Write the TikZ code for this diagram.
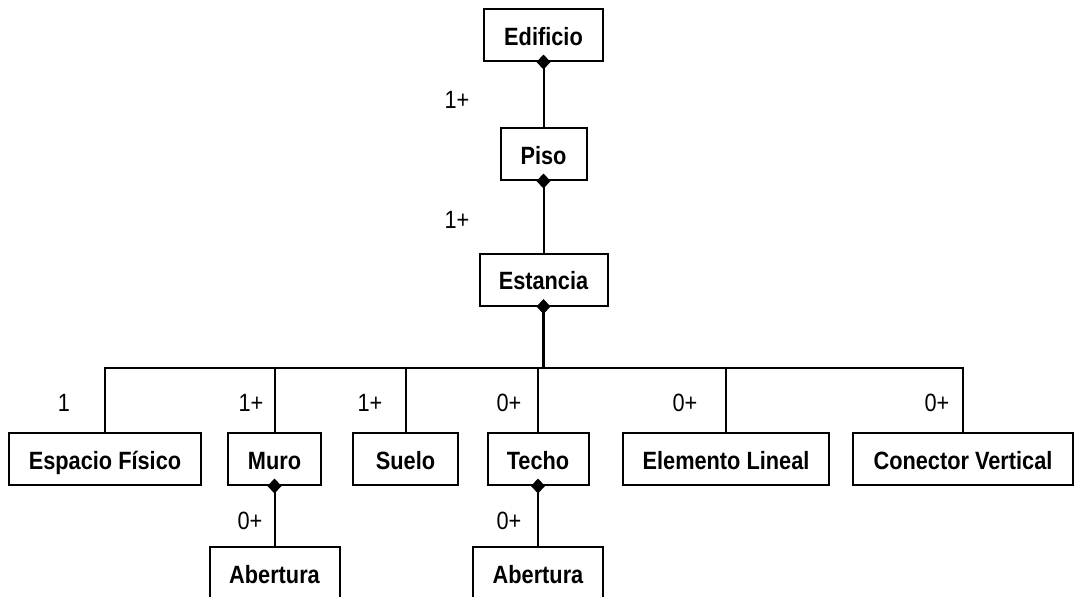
\documentclass[tikz,border=0pt]{standalone}
\usepackage{fontspec}
\setmainfont{Liberation Sans}[FakeStretch=0.87]
\usepackage{tikz}
\usetikzlibrary{arrows.meta}

\begin{document}
\begin{tikzpicture}[
  x=1pt, y=-1pt,
  font=\fontsize{25}{30}\selectfont,
  clase/.style={draw, line width=2pt, minimum height=52pt, inner xsep=4pt, text height=21pt, text depth=1pt, font=\fontsize{25}{30}\selectfont\bfseries},
  mult/.style={inner sep=0pt},
  enlace/.style={line width=2pt},
  compo/.style={enlace, {Diamond[length=15pt, width=14pt]}-, shorten <=-7.5pt},
  bus/.style={line width=2.6pt}
]
\useasboundingbox (0,0) rectangle (1074,597);

% jerarquia superior
\node[clase, minimum width=119pt] (edificio) at (543.5,35) {Edificio};
\node[clase, minimum width=86pt] (piso) at (543.5,154) {Piso};
\node[clase, minimum width=128pt] (estancia) at (543.5,279.5) {Estancia};

% fila de componentes
\node[clase, minimum width=192pt] (espacio) at (105,459) {Espacio Físico};
\node[clase, minimum width=93pt] (muro) at (274.5,459) {Muro};
\node[clase, minimum width=105pt] (suelo) at (405.5,459) {Suelo};
\node[clase, minimum width=101pt] (techo) at (538,459) {Techo};
\node[clase, minimum width=206pt] (lineal) at (726,459) {Elemento Lineal};
\node[clase, minimum width=220pt] (conector) at (963,459) {Conector Vertical};

\node[clase, minimum width=130pt] (abertM) at (274.5,573) {Abertura};
\node[clase, minimum width=130pt] (abertT) at (538,573) {Abertura};

\coordinate (bus) at (543.5,368);

% multiplicidades
\node[mult] (mPiso) at (457,100) {1+};
\node[mult] (mEstancia) at (457,220) {1+};
\node[mult] (mEspacio) at (64,403) {1};
\node[mult] (mMuro) at (251,403) {1+};
\node[mult] (mSuelo) at (370,403) {1+};
\node[mult] (mTecho) at (509,403) {0+};
\node[mult] (mLineal) at (685,403) {0+};
\node[mult] (mConector) at (937,403) {0+};
\node[mult] (mAbertM) at (250,521) {0+};
\node[mult] (mAbertT) at (509,521) {0+};

% composiciones
\draw[compo] (edificio.south) -- (piso.north);
\draw[compo] (piso.south) -- (estancia.north);
\draw[compo, line width=3.4pt] (estancia.south) -- (bus);
\draw[compo] (muro.south) -- (abertM.north);
\draw[compo] (techo.south) -- (abertT.north);

\draw[bus] (espacio.north) |- (bus);
\draw[bus] (conector.north) |- (bus);
\draw[enlace] (muro.north) -- (muro.north |- bus);
\draw[enlace] (suelo.north) -- (suelo.north |- bus);
\draw[enlace] (techo.north) -- (techo.north |- bus);
\draw[enlace] (lineal.north) -- (lineal.north |- bus);
\end{tikzpicture}
\end{document}
